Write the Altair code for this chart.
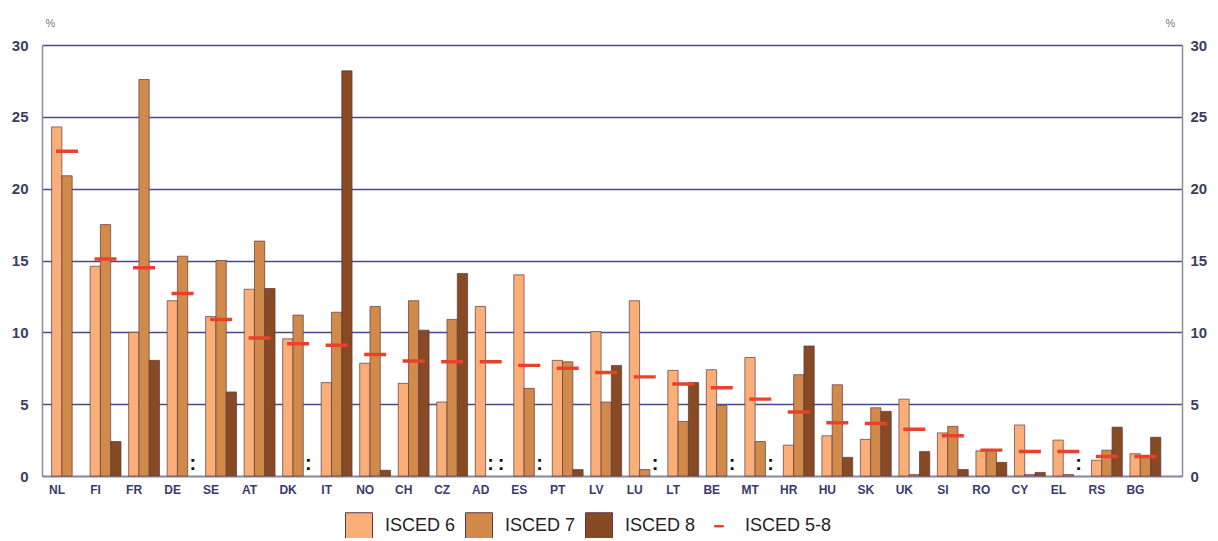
import altair as alt
import pandas as pd

countries = ["NL", "FI", "FR", "DE", "SE", "AT", "DK", "IT", "NO", "CH", "CZ", "AD", "ES", "PT", "LV",
             "LU", "LT", "BE", "MT", "HR", "HU", "SK", "UK", "SI", "RO", "CY", "EL", "RS", "BG"]
isced6 = [24.3, 14.6, 10.0, 12.2, 11.1, 13.0, 9.55, 6.5, 7.85, 6.45, 5.15, 11.8, 14.0, 8.05, 10.05,
          12.2, 7.35, 7.4, 8.25, 2.15, 2.8, 2.55, 5.35, 3.0, 1.75, 3.55, 2.5, 1.1, 1.55]
isced7 = [20.9, 17.5, 27.6, 15.3, 15.0, 16.35, 11.2, 11.4, 11.8, 12.2, 10.9, None, 6.1, 7.95, 5.15,
          0.45, 3.8, 4.9, 2.4, 7.05, 6.35, 4.75, 0.1, 3.45, 1.8, 0.1, 0.1, 1.8, 1.3]
isced8 = [None, 2.4, 8.05, None, 5.85, 13.05, None, 28.2, 0.4, 10.15, 14.1, None, None, 0.45, 7.7,
          None, 6.5, None, None, 9.05, 1.3, 4.5, 1.7, 0.45, 0.95, 0.25, None, 3.4, 2.7]
isced58 = [22.6, 15.1, 14.5, 12.7, 10.9, 9.6, 9.2, 9.1, 8.45, 8.0, 7.95, 7.95, 7.7, 7.5, 7.2,
           6.9, 6.4, 6.15, 5.35, 4.45, 3.7, 3.65, 3.25, 2.8, 1.8, 1.7, 1.7, 1.35, 1.35]
# ":" = data not available
not_available = [("DE", "ISCED 8"), ("DK", "ISCED 8"), ("AD", "ISCED 7"), ("AD", "ISCED 8"),
                 ("ES", "ISCED 8"), ("LU", "ISCED 8"), ("BE", "ISCED 8"), ("MT", "ISCED 8"),
                 ("EL", "ISCED 8")]

bar_levels = ["ISCED 6", "ISCED 7", "ISCED 8"]
all_levels = bar_levels + ["ISCED 5-8"]
colors = ["#FBAF78", "#D28A4A", "#874A22", "#E8412C"]
strokes = ["#5a3a48", "#5a3a48", "#5a3a48", "#E8412C"]
# short horizontal dash (with two invisible specks so its bounds match a full square)
dash = ("M-1,-1h0.001v0.001h-0.001Z"
        "M-0.33,-0.052H0.33V0.052H-0.33Z"
        "M1,1h-0.001v-0.001h0.001Z")
shapes = ["square", "square", "square", dash]

rows = []
for lvl, vals in zip(bar_levels, [isced6, isced7, isced8]):
    for c, v in zip(countries, vals):
        if v is not None:
            rows.append({"Country": c, "Level": lvl, "Value": v})
bars_df = pd.DataFrame(rows)
avg_df = pd.DataFrame({"Country": countries, "Level": "ISCED 5-8", "Value": isced58})
na_df = pd.DataFrame([{"Country": c, "Level": l, "Mark": ":"} for c, l in not_available])

FONT = "Liberation Sans"

x_enc = alt.X("Country:N", sort=countries,
              scale=alt.Scale(paddingInner=0, paddingOuter=0.30, align=0.25),
              axis=alt.Axis(title=None, labelAngle=0, labelOffset=-10, ticks=False,
                            labelFont=FONT, labelFontSize=12, labelFontWeight="bold",
                            labelColor="#3a3a6e", labelPadding=8,
                            domainColor="#8a8aa0", domainWidth=1.5))
xoff = alt.XOffset("Level:N", sort=bar_levels,
                   scale=alt.Scale(domain=bar_levels, paddingInner=0, paddingOuter=0.372))
yscale = alt.Scale(domain=[0, 30], nice=False)
color_enc = alt.Color("Level:N", scale=alt.Scale(domain=all_levels, range=colors),
                      legend=alt.Legend(title=None, orient="none", direction="horizontal",
                                        legendX=303, legendY=467))
stroke_enc = alt.Stroke("Level:N", scale=alt.Scale(domain=all_levels, range=strokes), legend=None)

bars = alt.Chart(bars_df).mark_bar(strokeWidth=0.7).encode(
    x=x_enc,
    xOffset=xoff,
    y=alt.Y("Value:Q", scale=yscale,
            axis=alt.Axis(orient="left", values=[0, 5, 10, 15, 20, 25, 30], title="%",
                          titleAngle=0, titleX=8, titleY=-22, titleAlign="center",
                          titleBaseline="middle", titleFont=FONT, titleFontSize=11,
                          titleFontWeight="normal", titleColor="#777777",
                          grid=True, gridColor="#4a4a86", gridWidth=1.5, ticks=False,
                          labelFont=FONT, labelFontSize=15, labelFontWeight="bold",
                          labelColor="#3d3d5c", labelPadding=14,
                          domainColor="#8a8aa0", domainWidth=1.5)),
    color=color_enc,
    stroke=stroke_enc,
)

avg = alt.Chart(avg_df).mark_point(filled=True, size=4444, strokeWidth=0, opacity=1).encode(
    x=x_enc,
    y=alt.Y("Value:Q", scale=yscale,
            axis=alt.Axis(orient="right", values=[0, 5, 10, 15, 20, 25, 30], title="%",
                          titleAngle=0, titleX=-12, titleY=-22, titleAlign="center",
                          titleBaseline="middle", titleFont=FONT, titleFontSize=11,
                          titleFontWeight="normal", titleColor="#777777",
                          grid=False, ticks=False,
                          labelFont=FONT, labelFontSize=15, labelFontWeight="bold",
                          labelColor="#3d3d5c", labelPadding=8,
                          domainColor="#8a8aa0", domainWidth=1.5)),
    color=color_enc,
    stroke=stroke_enc,
    shape=alt.Shape("Level:N", scale=alt.Scale(domain=all_levels, range=shapes), legend=None),
)

na = alt.Chart(na_df).mark_text(fontSize=20, fontWeight="bold", font=FONT, color="#111111",
                                baseline="bottom", dy=-2).encode(
    x=x_enc,
    xOffset=xoff,
    y=alt.datum(0, scale=yscale, axis=None),
    text="Mark:N",
)

chart = alt.layer(bars, avg, na).resolve_axis(y="independent").properties(
    width=1140, height=431,
    background="white",
    autosize=alt.AutoSizeParams(type="none"),
    padding={"left": 34, "top": 37, "right": 28, "bottom": 62},
).configure_view(stroke=None).configure_legend(
    symbolSize=729, symbolStrokeWidth=1, labelFont=FONT, labelFontSize=18, labelColor="#222222",
    labelOffset=12, columnPadding=7, symbolType="square",
)

chart.save("out.html", embed_options={"renderer": "svg", "actions": False})
